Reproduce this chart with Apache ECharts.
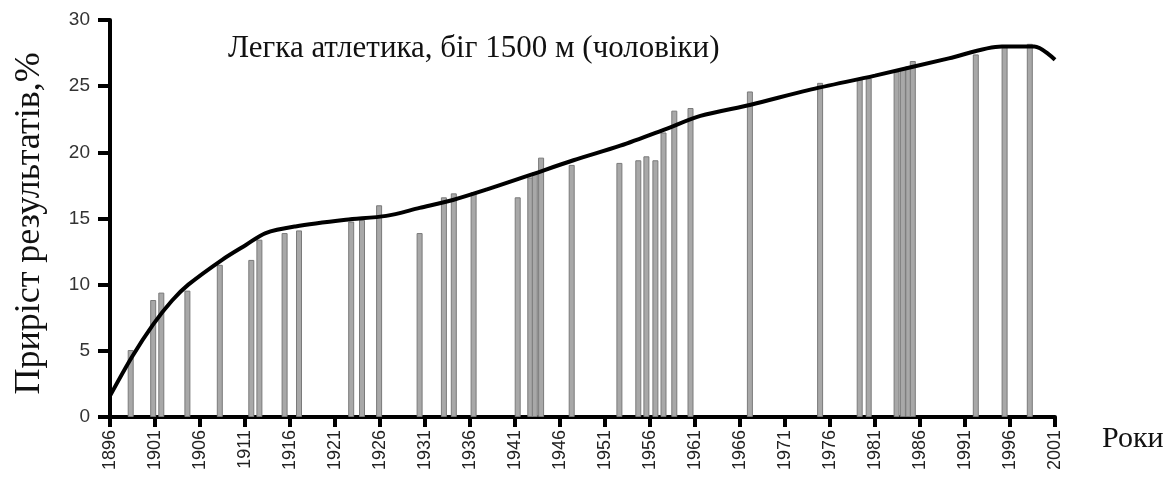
<!DOCTYPE html>
<html>
<head>
<meta charset="utf-8">
<script src="https://cdn.jsdelivr.net/npm/echarts@6/dist/echarts.min.js"></script>
<style>
html,body{margin:0;padding:0;background:#fff;}
#c{width:1170px;height:481px;}
</style>
</head>
<body>
<div id="c"></div>
<script>
// Record years (bars) and their improvement values, %
const barYears = [1898.3, 1900.8, 1901.7, 1904.6, 1908.2, 1911.7, 1912.6, 1915.4, 1917.0, 1922.8, 1924.0, 1925.9,
  1930.4, 1933.1, 1934.2, 1936.4, 1941.3, 1942.7, 1943.2, 1943.9, 1947.3, 1952.6, 1954.7, 1955.6, 1956.6,
  1957.5, 1958.7, 1960.5, 1967.1, 1974.9, 1979.3, 1980.3, 1983.4, 1984.1, 1984.7, 1985.2, 1992.2, 1995.4, 1998.2];
const barValues = [5.06, 8.84, 9.4, 9.55, 11.5, 11.87, 13.4, 13.9, 14.1, 14.77, 14.9, 16.0,
  13.9, 16.6, 16.9, 17.0, 16.6, 18.1, 18.5, 19.6, 19.05, 19.2, 19.4, 19.7, 19.4,
  21.5, 23.15, 23.35, 24.6, 25.25, 25.5, 25.6, 26.1, 26.3, 26.5, 26.9, 27.4, 28.1, 28.2];
// Trend line
const lineYears = [1896, 1898.4, 1900.8, 1902.9, 1904.7, 1908.5, 1911.1, 1913.3, 1916.6, 1922.2, 1926.7, 1930.4,
  1934.1, 1937.9, 1942.3, 1947.5, 1952.7, 1957.9, 1961.6, 1967.2, 1973.6, 1981.0, 1989.2, 1995.1, 1998.7, 2001];
const lineValues = [1.6, 4.5, 7.0, 8.8, 10.0, 11.9, 13.0, 13.9, 14.4, 14.9, 15.2, 15.8,
  16.4, 17.2, 18.2, 19.4, 20.5, 21.8, 22.75, 23.6, 24.7, 25.8, 27.1, 28.0, 28.0, 27.0];
const titleText = 'Легка атлетика, біг 1500 м (чоловіки)';
const yName = 'Приріст результатів,%';
const xName = 'Роки';

const chart = echarts.init(document.getElementById('c'));
chart.setOption({
  animation: false,
  backgroundColor: '#fff',
  grid: {left: 110, right: 115, top: 20, bottom: 64},
  graphic: [
    {type: 'text', left: 228, top: 33, style: {text: titleText, font: '31px "Liberation Serif"', fill: '#111'}},
    {type: 'text', left: 1102, top: 424, style: {text: xName, font: '30px "Liberation Serif"', fill: '#111'}}
  ],
  xAxis: {
    type: 'value', min: 1896, max: 2001, interval: 5,
    splitLine: {show: false},
    axisLine: {lineStyle: {color: '#000', width: 4}},
    axisTick: {show: true, length: 10, lineStyle: {color: '#000', width: 4}},
    axisLabel: {rotate: 90, color: '#222', fontFamily: 'Liberation Sans', fontSize: 18, margin: 13,
      formatter: v => String(v)}
  },
  yAxis: {
    type: 'value', min: 0, max: 30, interval: 5,
    name: yName, nameLocation: 'middle', nameGap: 62,
    nameTextStyle: {fontFamily: 'Liberation Serif', fontSize: 36, color: '#111', padding: [0, 10, 0, 0]},
    splitLine: {show: false},
    axisLine: {show: true, lineStyle: {color: '#000', width: 4}},
    axisTick: {show: true, length: 12, lineStyle: {color: '#000', width: 4}},
    axisLabel: {color: '#333', fontFamily: 'Liberation Sans', fontSize: 19, margin: 20}
  },
  series: [
    {
      type: 'bar', barWidth: 6,
      data: barYears.map((y, i) => [y, barValues[i]]),
      itemStyle: {color: '#a8a8a8', borderColor: '#7a7a7a', borderWidth: 1},
      z: 2
    },
    {
      type: 'line', smooth: 0.3, showSymbol: false,
      data: lineYears.map((y, i) => [y, lineValues[i]]),
      lineStyle: {color: '#000', width: 4},
      z: 3
    }
  ]
});
</script>
</body>
</html>
